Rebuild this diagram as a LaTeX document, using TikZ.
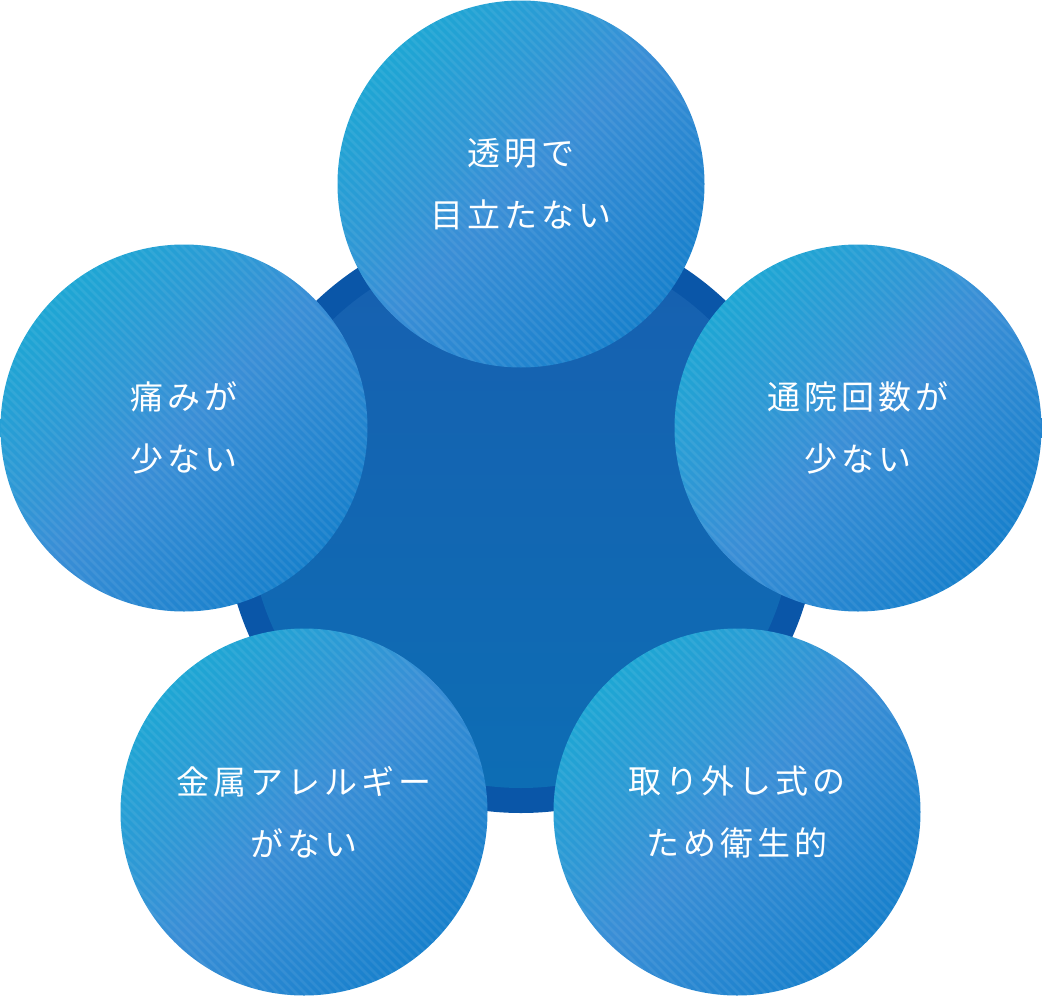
\documentclass[tikz,border=0pt]{standalone}
\usepackage{fontspec}
\newfontfamily\cjk[LetterSpace=12]{Noto Sans CJK JP}
\usetikzlibrary{positioning}
\definecolor{ringblue}{HTML}{0A56A8}
\definecolor{coreTop}{HTML}{1760B0}
\definecolor{coreBot}{HTML}{0D6DB4}
\definecolor{ballA}{HTML}{1EA6D4}
\definecolor{ballB}{HTML}{3A8ED6}
\definecolor{ballC}{HTML}{1780CC}
\tikzset{
  ball/.style={circle, minimum size=367pt, inner sep=0pt,
    shading=axis, left color=ballA, right color=ballC, middle color=ballB, shading angle=45,
    path picture={
      \foreach \k in {-40,...,40}
        \draw[white, opacity=0.07, line width=2.5pt]
          ([xshift=\k*9pt]path picture bounding box.north west) -- ++(400pt,-400pt);
    },
    text=white, align=center, font=\cjk\fontsize{33}{62}\selectfont}
}
\begin{document}
\begin{tikzpicture}[x=1pt,y=-1pt]
  \useasboundingbox (0,0) rectangle (1042,996);
  \fill[ringblue] (521,516) circle (297pt);
  \shade[top color=coreTop, bottom color=coreBot] (521,516) circle (272pt);

  \node[ball] (clear) at (521,184) {透明で\\目立たない};
  \node[ball] (visits) at (858,428) {通院回数が\\少ない};
  \node[ball] (pain) at (184,428) {痛みが\\少ない};
  \node[ball] (metal) at (304,812) {金属アレルギー\\がない};
  \node[ball] (hygiene) at (737,812) {取り外し式の\\ため衛生的};
\end{tikzpicture}
\end{document}
